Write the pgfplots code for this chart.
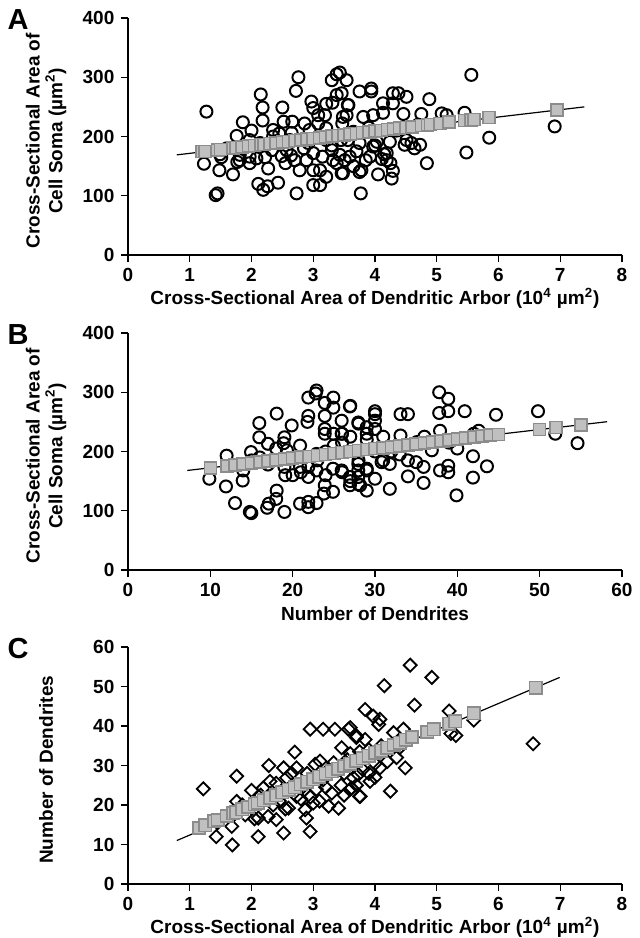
\documentclass[border=0pt]{standalone}
\usepackage{fontspec}
\setmainfont{Liberation Sans}
\usepackage{pgfplots}
\pgfplotsset{compat=1.18}
\definecolor{sqfill}{HTML}{C0C0C0}
\definecolor{sqdraw}{HTML}{8C8C8C}
\newcommand{\lbl}{\bfseries\fontsize{9.5}{11.4}\selectfont}
\pgfplotsset{
  panel/.style={
    scale only axis, width=247pt, height=118.5pt,
    axis x line*=bottom, axis y line*=left,
    axis line style={line width=0.7pt, black},
    tick align=outside, major tick length=3.3pt,
    tick style={line width=0.7pt, black},
    tick label style={font=\lbl},
    label style={font=\lbl},
    /pgf/number format/assume math mode=true,
    clip=false,
    xlabel style={at={(axis description cs:0.5,-0.183)}, anchor=center},
    ylabel style={at={(axis description cs:-0.166,0.482)}, anchor=center, align=center},
  },
  circ/.style={only marks, mark=o, mark size=3pt, mark options={line width=1pt, black}},
  diam/.style={only marks, mark=square, mark size=2.3pt, mark options={line width=0.9pt, black, rotate=45}},
  sq/.style={only marks, mark=square*, mark size=3pt, mark options={fill=sqfill, draw=sqdraw, line width=0.8pt}},
  fit/.style={black, line width=0.6pt, no marks},
}
\begin{document}
\begin{tikzpicture}
\useasboundingbox (-64pt,-341.5pt) rectangle (256pt,127.5pt);
% ---------------- Panel A
\begin{axis}[panel, at={(0pt,0pt)}, anchor=south west,
  xmin=0, xmax=8, ymin=0, ymax=400,
  xtick={0,1,...,8}, ytick={0,100,...,400},
  xlabel={Cross-Sectional Area of Dendritic Arbor (10\textsuperscript{4} µm\textsuperscript{2})},
  ylabel={Cross-Sectional Area of\\Cell Soma (µm\textsuperscript{2})}]
\addplot[circ] coordinates {
(1.27,242) (1.23,154) (1.48,143) (1.42,101) (1.45,104) (1.70,136) (1.77,157) (1.81,169)
(1.86,224) (1.76,201) (2.00,210) (2.15,271) (2.18,249) (2.18,227) (2.22,165) (2.27,146)
(2.11,120) (2.19,110) (2.26,116) (2.43,122) (2.50,249) (2.52,225) (2.66,225) (2.49,167)
(2.70,160) (2.73,104) (2.76,300) (2.72,277) (2.86,222) (2.89,160) (2.97,259) (3.00,248)
(3.08,236) (3.00,118) (3.11,118) (3.11,143) (3.15,166) (3.19,236) (3.31,257) (3.38,305)
(3.43,308) (3.30,295) (3.46,273) (3.54,295) (3.56,253) (3.48,233) (3.43,169) (3.46,138)
(3.32,160) (3.21,194) (2.62,194) (2.35,200) (2.65,206) (2.33,177) (1.97,166) (3.00,172)
(3.21,214) (5.56,304) (6.91,217) (5.85,198) (5.48,173) (5.45,240) (5.08,239) (5.16,236)
(4.88,263) (4.84,155) (4.73,186) (4.64,180) (4.75,238) (4.51,267) (4.38,273) (4.29,273)
(4.29,256) (4.46,238) (4.48,186) (4.27,129) (4.29,142) (4.19,160) (4.11,162) (3.92,166)
(3.94,281) (3.94,276) (3.75,276) (3.81,233) (3.97,236) (3.78,143) (3.77,104) (3.57,253)
(3.48,138) (4.13,256) (4.03,191) (4.24,191) (3.21,255) (3.38,270) (3.54,236) (3.47,222)
(3.56,194) (3.08,222) (2.64,168) (2.57,177) (2.08,163) (1.97,155) (1.81,160) (1.51,165)
(1.49,170) (1.97,194) (2.35,211) (2.14,189) (2.78,194) (2.94,211) (2.92,189) (3.30,177)
(3.38,155) (3.21,132) (3.00,143) (2.78,143) (3.59,166) (3.65,208) (3.75,189) (3.97,183)
(4.19,172) (4.59,189) (4.51,194) (4.05,136) (3.51,160) (3.45,194) (4.13,240) (3.75,140)
(4.00,185) (4.15,170) (4.25,155) (3.70,175) (3.85,160) (3.30,185) (2.45,205) (2.85,180)
(4.35,210) (3.90,215) (4.70,220) (1.60,180) (2.55,155) (3.65,150)
};
\addplot[sq] coordinates {
(1.20,174.4) (1.25,175.0) (1.45,177.5) (1.50,178.1) (1.70,180.6) (1.75,181.2) (1.85,182.4)
(1.95,183.7) (2.05,184.9) (2.15,186.2) (2.20,186.8) (2.30,188.0) (2.40,189.3) (2.50,190.5)
(2.60,191.7) (2.70,193.0) (2.80,194.2) (2.90,195.5) (3.00,196.7) (3.10,197.9) (3.20,199.2)
(3.30,200.4) (3.40,201.7) (3.50,202.9) (3.60,204.1) (3.70,205.4) (3.80,206.6) (3.90,207.9)
(4.00,209.1) (4.10,210.3) (4.20,211.6) (4.30,212.8) (4.40,214.1) (4.50,215.3) (4.60,216.5)
(4.75,218.4) (4.85,219.6) (4.90,220.3) (5.05,222.1) (5.20,224.0) (5.45,227.1) (5.55,228.3)
(5.60,228.9) (5.85,232.0) (6.95,245.0)
};
\addplot[fit] coordinates {(0.79,169) (7.39,250)};
\node[font=\bfseries\fontsize{14.5}{16}\selectfont, xshift=-55pt, yshift=-1pt] at (rel axis cs:0,1) {A};
\end{axis}
% ---------------- Panel B
\begin{axis}[panel, at={(0pt,-157.5pt)}, anchor=south west,
  xmin=0, xmax=60, ymin=0, ymax=400,
  xtick={0,10,...,60}, ytick={0,100,...,400},
  xlabel={Number of Dendrites},
  ylabel={Cross-Sectional Area of\\Cell Soma (µm\textsuperscript{2})}]
\addplot[circ] coordinates {
(9.88,154) (11.98,193) (11.9,141) (13.0,113) (13.93,151) (14.0,168) (14.94,199) (14.8,98)
(14.98,96) (15.95,248) (15.95,224) (17.0,213) (16.9,105) (17.1,112) (18.06,264) (18.06,134)
(18.0,120) (19.0,98) (19.0,224) (18.9,214) (19.3,202) (19.1,160) (19.88,244) (20.9,210)
(20.9,112) (21.9,291) (21.9,260) (21.8,250) (21.9,106) (21.9,115) (21.9,157) (21.9,174)
(22.9,303) (22.8,298) (22.9,113) (23.9,282) (23.9,260) (23.9,238) (23.9,230) (23.8,129)
(23.9,143) (24.94,291) (24.94,274) (24.94,230) (24.9,171) (24.9,132) (25.95,252) (25.95,230)
(26.96,276) (26.96,157) (26.96,143) (27.97,249) (27.97,179) (27.97,168) (19.0,174) (20.1,188)
(37.8,300) (38.9,289) (38.9,268) (37.8,265) (40.9,268) (44.7,262) (49.8,268) (54.6,214)
(51.9,230) (41.9,192) (43.6,175) (41.9,156) (39.9,126) (38.9,176) (38.9,165) (37.9,168)
(37.9,235) (42.6,235) (35.9,147) (36.9,202) (35.1,216) (35.0,182) (34.0,185) (34.0,158)
(34.0,263) (33.1,263) (33.1,227) (31.8,137) (31.8,179) (30.8,182) (30.0,263) (30.0,252)
(30.0,154) (29.0,134) (29.0,171) (28.0,247) (28.0,185) (27.0,277) (35.9,174) (29.0,241)
(25.95,168) (22.9,168) (22.9,196) (20.9,174) (27.97,157) (28.2,143) (29.0,168) (29.0,230)
(29.0,220) (30.0,238) (31.0,225) (30.0,200) (31.0,185) (30.0,268) (27.0,225) (26.0,230)
(25.0,210) (26.0,165) (27.0,150) (28.0,145) (17.0,178) (18.0,205) (16.0,190) (20.0,160)
(21.0,165) (23.0,185) (24.0,200) (32.0,200) (33.0,195) (36.0,225) (39.0,215) (40.0,205)
(42.0,230) (24.0,160) (26.0,215) (15.0,185)
};
\addplot[sq] coordinates {
(10,172.5) (12,175.8) (13,177.4) (14,179.0) (15,180.6) (16,182.2) (17,183.8) (18,185.5)
(19,187.1) (20,188.7) (21,190.3) (22,191.9) (23,193.5) (24,195.1) (25,196.8) (26,198.4)
(27,200.0) (28,201.6) (29,203.2) (30,204.8) (31,206.4) (32,208.0) (33,209.7) (34,211.3)
(35,212.9) (36,214.5) (37,216.1) (38,217.7) (39,219.3) (40,221.0) (41,222.6) (42,224.2)
(43,225.8) (44,227.4) (45,229.0) (50,237.1) (52,240.3) (55,245.2)
};
\addplot[fit] coordinates {(7.2,168) (58.2,250.3)};
\node[font=\bfseries\fontsize{14.5}{16}\selectfont, xshift=-55pt, yshift=-1pt] at (rel axis cs:0,1) {B};
\end{axis}
% ---------------- Panel C
\begin{axis}[panel, at={(0pt,-314.5pt)}, anchor=south west,
  xmin=0, xmax=8, ymin=0, ymax=60,
  xtick={0,1,...,8}, ytick={0,10,...,60},
  xlabel={Cross-Sectional Area of Dendritic Arbor (10\textsuperscript{4} µm\textsuperscript{2})},
  ylabel={Number of Dendrites}]
\addplot[diam] coordinates {
(1.22,24.1) (1.43,12.0) (1.69,9.9) (1.76,27.3) (1.76,20.9) (1.71,17.5) (1.68,14.6) (2.00,23.7)
(2.11,12.0) (2.11,16.7) (2.28,30.0) (2.19,24.3) (2.30,26.0) (2.27,17.1) (2.40,16.3) (2.52,12.9)
(2.52,29.4) (2.57,26.9) (2.70,33.4) (2.73,29.4) (2.60,19.2) (2.87,18.8) (2.95,39.2) (2.95,13.3)
(3.03,30.3) (2.89,16.7) (3.00,20.5) (3.16,39.2) (3.35,39.2) (3.57,39.2) (3.46,34.5) (3.70,37.5)
(3.84,44.2) (3.25,19.7) (3.41,19.2) (3.16,26.4) (3.33,30.7) (3.59,23.9) (3.75,22.2) (3.65,26.9)
(3.11,31.1) (2.84,24.7) (2.73,22.2) (4.57,55.4) (4.92,52.3) (4.15,50.2) (4.64,45.3) (3.97,42.5)
(4.08,41.7) (4.06,40.4) (5.20,43.8) (5.23,38.1) (5.31,37.6) (5.60,41.5) (6.56,35.5) (4.30,38.3)
(4.46,39.2) (4.49,29.4) (4.25,23.5) (4.35,32.0) (4.08,29.4) (3.84,36.6) (3.70,37.1) (3.92,26.0)
(3.73,27.7) (3.76,22.2) (3.62,24.3) (3.60,39.6) (1.45,15.5) (1.90,17.5) (2.05,16.5) (2.15,22.5)
(2.40,25.5) (2.45,21.0) (2.55,19.0) (2.65,28.0) (2.80,21.5) (2.90,28.0) (2.95,22.0) (3.05,24.0)
(3.10,21.0) (3.20,24.5) (3.25,29.0) (3.30,23.0) (3.45,25.0) (3.50,28.0) (3.55,31.5) (3.60,33.0)
(3.75,33.5) (3.80,29.0) (3.90,34.0) (4.00,30.5) (4.10,35.0) (4.20,31.0) (4.40,34.5) (3.50,22.5)
(3.70,25.0) (3.90,28.0) (4.00,27.0) (1.85,20.0) (2.35,20.0) (3.15,27.5)
};
\addplot[sq, mark size=3.1pt] coordinates {
(1.15,14.2) (1.25,14.9) (1.40,15.9) (1.45,16.2) (1.60,17.2) (1.70,17.9) (1.75,18.2) (1.85,18.9)
(1.95,19.5) (2.05,20.2) (2.10,20.5) (2.20,21.2) (2.30,21.9) (2.40,22.5) (2.50,23.2) (2.60,23.9)
(2.70,24.5) (2.80,25.2) (2.90,25.9) (3.00,26.5) (3.10,27.2) (3.20,27.9) (3.30,28.5) (3.40,29.2)
(3.50,29.9) (3.60,30.5) (3.70,31.2) (3.80,31.8) (3.90,32.5) (4.00,33.2) (4.10,33.8) (4.20,34.5)
(4.30,35.2) (4.40,35.8) (4.50,36.5) (4.60,37.2) (4.85,38.5) (4.95,39.2) (5.20,40.6) (5.30,41.2)
(5.60,43.2) (6.60,49.7)
};
\addplot[fit] coordinates {(0.79,11.0) (6.99,52.3)};
\node[font=\bfseries\fontsize{14.5}{16}\selectfont, xshift=-55pt, yshift=-1pt] at (rel axis cs:0,1) {C};
\end{axis}
\end{tikzpicture}
\end{document}
